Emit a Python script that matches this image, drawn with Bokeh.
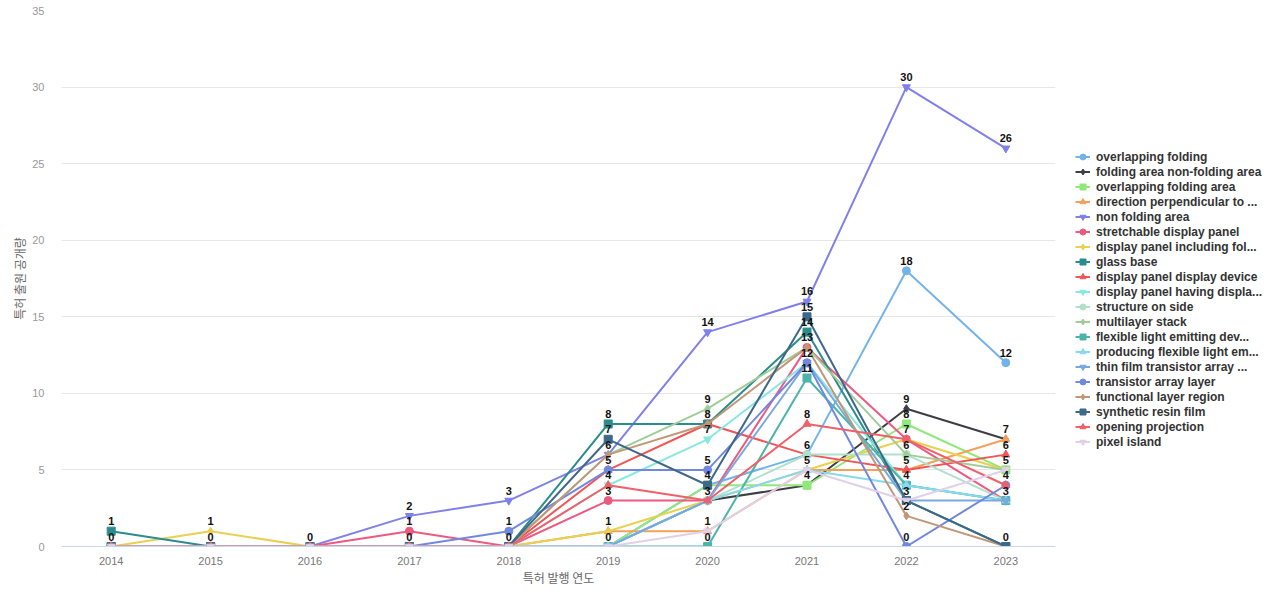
from bokeh.plotting import figure
from bokeh.models import Range1d, FactorRange, Legend, LegendItem, FixedTicker, ColumnDataSource
from bokeh.core.properties import value
from bokeh.embed import file_html
from bokeh.resources import INLINE

years = ["2014", "2015", "2016", "2017", "2018", "2019", "2020", "2021", "2022", "2023"]

series_names = [
    "overlapping folding",
    "folding area non-folding area",
    "overlapping folding area",
    "direction perpendicular to ...",
    "non folding area",
    "stretchable display panel",
    "display panel including fol...",
    "glass base",
    "display panel display device",
    "display panel having displa...",
    "structure on side",
    "multilayer stack",
    "flexible light emitting dev...",
    "producing flexible light em...",
    "thin film transistor array ...",
    "transistor array layer",
    "functional layer region",
    "synthetic resin film",
    "opening projection",
    "pixel island",
]

overlapping_folding = [0, 0, 0, 0, 0, 0, 4, 6, 18, 12]
folding_area_non_folding_area = [0, 0, 0, 0, 0, 0, 3, 4, 9, 7]
overlapping_folding_area = [0, 0, 0, 0, 0, 0, 4, 4, 8, 5]
direction_perpendicular = [0, 0, 0, 0, 0, 1, 1, 5, 5, 7]
non_folding_area = [0, 0, 0, 2, 3, 6, 14, 16, 30, 26]
stretchable_display_panel = [0, 0, 0, 1, 0, 3, 3, 13, 7, 3]
display_panel_including = [0, 1, 0, 0, 0, 1, 3, 5, 7, 5]
glass_base = [1, 0, 0, 0, 0, 8, 8, 14, 3, 0]
display_panel_display_device = [0, 0, 0, 0, 0, 5, 8, 6, 5, 6]
display_panel_having = [0, 0, 0, 0, 0, 4, 7, 12, 4, 3]
structure_on_side = [0, 0, 0, 0, 0, 0, 3, 6, 6, 3]
multilayer_stack = [0, 0, 0, 0, 0, 6, 9, 13, 6, 5]
flexible_light_emitting = [0, 0, 0, 0, 0, 0, 0, 11, 4, 3]
producing_flexible_light = [0, 0, 0, 0, 0, 0, 3, 5, 4, 3]
thin_film_transistor_array = [0, 0, 0, 0, 0, 0, 3, 12, 3, 3]
transistor_array_layer = [0, 0, 0, 0, 1, 5, 5, 12, 0, 4]
functional_layer_region = [0, 0, 0, 0, 0, 6, 8, 13, 2, 0]
synthetic_resin_film = [0, 0, 0, 0, 0, 7, 4, 15, 3, 0]
opening_projection = [0, 0, 0, 0, 0, 4, 3, 8, 7, 4]
pixel_island = [0, 0, 0, 0, 0, 0, 1, 5, 3, 5]

series_values = [
    overlapping_folding, folding_area_non_folding_area, overlapping_folding_area,
    direction_perpendicular, non_folding_area, stretchable_display_panel,
    display_panel_including, glass_base, display_panel_display_device,
    display_panel_having, structure_on_side, multilayer_stack,
    flexible_light_emitting, producing_flexible_light, thin_film_transistor_array,
    transistor_array_layer, functional_layer_region, synthetic_resin_film,
    opening_projection, pixel_island,
]

colors = [
    "#74b3ea", "#3d3d45", "#8ee87a", "#f5a05a", "#8080ea",
    "#ec5a80", "#e8d050", "#2a8c8c", "#f05555", "#88e8e0",
    "#b0e0cc", "#a0cc98", "#4cb4a8", "#88d8f0", "#78a8e0",
    "#7088e0", "#c09878", "#3e6888", "#f06068", "#e0d0e8",
]
markers = ["circle", "diamond", "square", "triangle", "inverted_triangle"] * 4

y_ticks = [0, 5, 10, 15, 20, 25, 30, 35]

FONT = "Liberation Sans"

p = figure(
    x_range=FactorRange(factors=years),
    y_range=Range1d(0, 35),
    frame_width=994, frame_height=536,
    min_border_left=61, min_border_top=10, min_border_bottom=40, min_border_right=5,
    output_backend="svg", toolbar_location=None,
    background_fill_color="white", border_fill_color="white",
)
p.outline_line_color = None
p.xgrid.grid_line_color = None
p.ygrid.grid_line_color = "#e6e6e6"
p.yaxis.ticker = FixedTicker(ticks=y_ticks)
p.yaxis.axis_line_color = None
p.yaxis.major_tick_line_color = None
p.yaxis.minor_tick_line_color = None
p.yaxis.major_label_text_font = FONT
p.yaxis.major_label_text_font_size = "11px"
p.yaxis.major_label_text_color = "#999999"
p.yaxis.major_label_standoff = 11
p.yaxis.axis_label = "특허 출원 공개량"
p.yaxis.axis_label_text_font = "Noto Sans CJK KR"
p.yaxis.axis_label_text_font_size = "12px"
p.yaxis.axis_label_text_font_style = "normal"
p.yaxis.axis_label_text_color = "#666666"
p.yaxis.axis_label_standoff = 1

p.xaxis.axis_line_color = "#ccd6eb"
p.xaxis.major_tick_line_color = None
p.xaxis.minor_tick_line_color = None
p.xaxis.major_label_text_font = FONT
p.xaxis.major_label_text_font_size = "11px"
p.xaxis.major_label_text_color = "#777777"
p.xaxis.major_label_standoff = 4
p.xaxis.axis_label = "특허 발행 연도"
p.xaxis.axis_label_text_font = "Noto Sans CJK KR"
p.xaxis.axis_label_text_font_size = "12px"
p.xaxis.axis_label_text_font_style = "normal"
p.xaxis.axis_label_text_color = "#666666"
p.xaxis.axis_label_standoff = 1

items = []
for name, vals, col, mk in zip(series_names, series_values, colors, markers):
    src = ColumnDataSource(dict(x=years, y=vals))
    lr = p.line("x", "y", source=src, line_color=col, line_width=2)
    sr = p.scatter("x", "y", source=src, marker=mk, size=8, fill_color=col, line_color=col)
    items.append(LegendItem(label=name, renderers=[lr, sr]))

# data labels: one per distinct value per year
lx, ly, lt = [], [], []
for i, yr in enumerate(years):
    seen = sorted(set(v[i] for v in series_values))
    for v in seen:
        lx.append(yr)
        ly.append(v)
        lt.append(str(v))
p.text(x=lx, y=ly, text=lt, text_align="center", text_baseline="middle",
       y_offset=-10, text_font=value(FONT), text_font_size="11px",
       text_font_style="bold", text_color="#111111")

legend = Legend(items=items, location=(20, 97))
legend.label_text_font = FONT
legend.label_text_font_size = "12px"
legend.label_text_font_style = "bold"
legend.label_text_color = "#333333"
legend.glyph_width = 15
legend.glyph_height = 15
legend.label_height = 15
legend.label_standoff = 6
legend.spacing = 0
legend.padding = 0
legend.margin = 0
legend.border_line_color = None
legend.background_fill_alpha = 0
p.add_layout(legend, "right")

open("out.html", "w").write(file_html(p, INLINE))
